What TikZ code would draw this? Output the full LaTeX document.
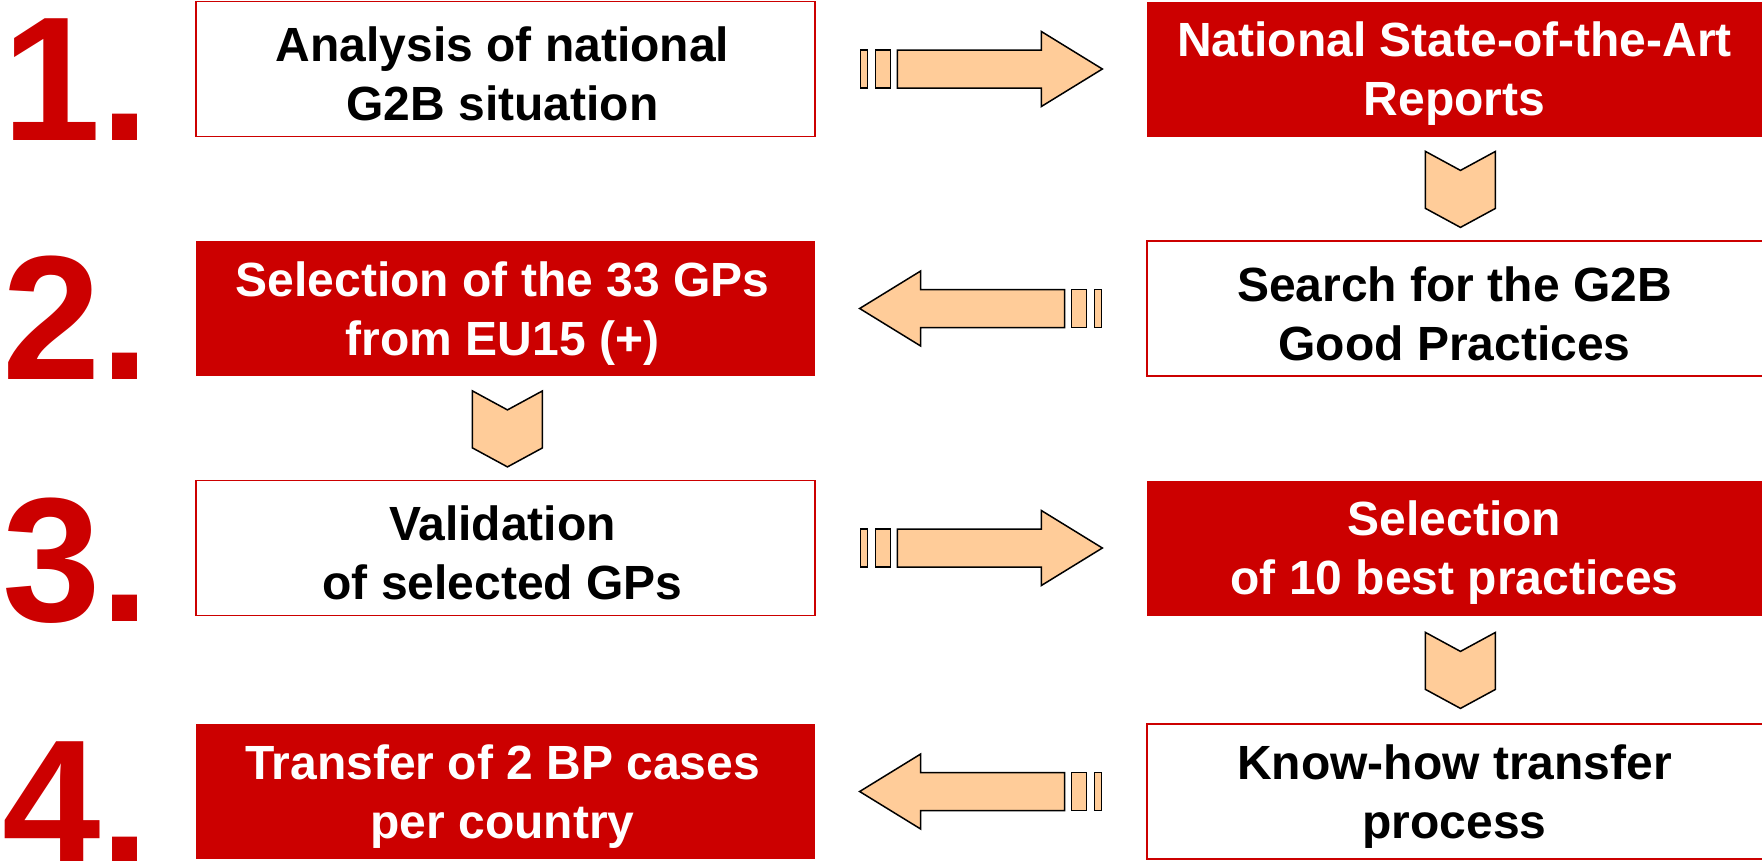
\documentclass[tikz,border=0pt]{standalone}
\usepackage{fontspec}
\setmainfont{Liberation Sans}
\usetikzlibrary{calc}
\definecolor{gred}{HTML}{CC0000}
\definecolor{peach}{HTML}{FFCC99}
\tikzset{
  box/.style={minimum width=619pt, minimum height=135pt, inner sep=0pt},
  rightcol/.style={minimum width=625pt},
  wbox/.style={box, draw=gred, line width=1.8pt, fill=white},
  rbox/.style={box, fill=gred},
  txt/.style={inner sep=0pt, align=center, font=\fontsize{48}{59}\selectfont\bfseries},
  wtxt/.style={txt, text=black},
  rtxt/.style={txt, text=white},
  num/.style={anchor=base west, inner sep=0pt, text=gred,
    font=\fontsize{177}{177}\selectfont\bfseries},
  arr/.style={fill=peach, draw=black, line width=1.5pt, line join=miter},
  harrow/.pic={
    \path[arr] (-121,-19) rectangle (-114,19);
    \path[arr] (-106,-19) rectangle (-91,19);
    \path[arr] (-84,-19) -- (60,-19) -- (60,-37.5) -- (121,0) -- (60,37.5) -- (60,19) -- (-84,19) -- cycle;
  },
  vchev/.pic={
    \path[arr] (-35,-37) -- (0,-18) -- (35,-37) -- (35,20) -- (0,39) -- (-35,20) -- cycle;
  }
}
\begin{document}
\begin{tikzpicture}[x=1pt,y=-1pt]
\useasboundingbox (0,0) rectangle (1762,860);
% step boxes
\node[wbox] (s1) at (505.5,69) {};
\node[rbox,rightcol] (s2) at (1459.5,69) {};
\node[wbox,rightcol] (s3) at (1459.5,308.5) {};
\node[rbox] (s4) at (505.5,308.5) {};
\node[wbox] (s5) at (505.5,548) {};
\node[rbox,rightcol] (s6) at (1459.5,548) {};
\node[wbox,rightcol] (s7) at (1459.5,791.5) {};
\node[rbox] (s8) at (505.5,791.5) {};
% step texts
\node[wtxt] (t1) at ($(s1.center)+(-3,5)$) {Analysis of national\\G2B situation};
\node[rtxt] (t2) at ($(s2.center)+(-5,5)$) {National State-of-the-Art\\Reports};
\node[wtxt] (t3) at ($(s3.center)+(-5,5)$) {Search for the G2B\\Good Practices};
\node[rtxt] (t4) at ($(s4.center)+(-3,5)$) {Selection of the 33 GPs\\from EU15 (+)};
\node[wtxt] (t5) at ($(s5.center)+(-3,5)$) {Validation\\of selected GPs};
\node[rtxt] (t6) at ($(s6.center)+(-5,5)$) {Selection\\of 10 best practices};
\node[wtxt] (t7) at ($(s7.center)+(-5,5)$) {Know-how transfer\\process};
\node[rtxt] (t8) at ($(s8.center)+(-3,5)$) {Transfer of 2 BP cases\\per country};
% numbers
\node[num] (n1) at (2,140) {1.};
\node[num] (n2) at (2,379) {2.};
\node[num] (n3) at (2,621) {3.};
\node[num] (n4) at (2,863) {4.};
% horizontal arrows
\pic at ($(s1.east)!0.5!(s2.west)$) {harrow};
\pic[xscale=-1] at ($(s3.west)!0.5!(s4.east)$) {harrow};
\pic at ($(s5.east)!0.5!(s6.west)$) {harrow};
\pic[xscale=-1] at ($(s7.west)!0.5!(s8.east)$) {harrow};
% vertical chevrons
\pic at ($(s2.south west)!0.5!(s3.north west)+(314,0)$) {vchev};
\pic at ($(s4.south west)!0.5!(s5.north west)+(312,0)$) {vchev};
\pic at ($(s6.south west)!0.5!(s7.north west)+(314,0)$) {vchev};
\end{tikzpicture}
\end{document}
